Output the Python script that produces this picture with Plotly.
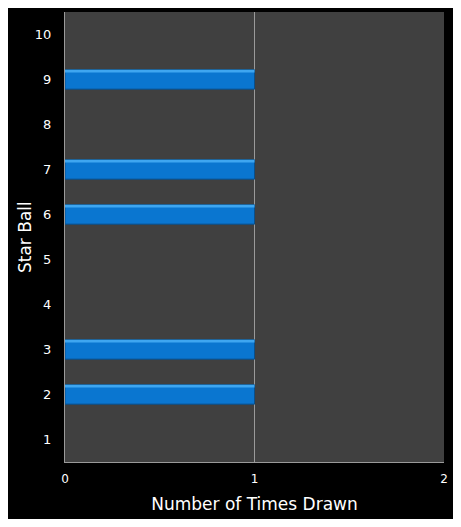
import plotly.graph_objects as go

# star ball numbers and how often each was drawn
star_balls = [1, 2, 3, 4, 5, 6, 7, 8, 9, 10]
times_drawn = [0, 1, 1, 0, 0, 1, 1, 0, 1, 0]
x_ticks = [0, 1, 2]

# page has an 8px body margin, so shrink the figure to keep the plot in place
fig = go.Figure()

fig.add_trace(go.Bar(
    x=times_drawn,
    y=star_balls,
    orientation="h",
    width=0.43,
    marker=dict(color="#0a76d0", line=dict(color="#0a4f8a", width=[1 if v else 0 for v in times_drawn])),
))

# light strip across the top of each bar (glossy look)
fig.add_trace(go.Bar(
    x=times_drawn,
    y=star_balls,
    orientation="h",
    width=0.06,
    offset=0.155,
    marker=dict(color="#3ea6f0", line=dict(width=0)),
))

fig.update_layout(
    width=445,
    height=511,
    paper_bgcolor="black",
    plot_bgcolor="#404040",
    margin=dict(l=57, r=9, t=4, b=57),
    showlegend=False,
    barmode="overlay",
    font=dict(family="DejaVu Sans", color="white", size=13),
)

fig.update_xaxes(
    range=[0, 2],
    tickvals=x_ticks,
    showgrid=True,
    gridcolor="#9a9a9a",
    gridwidth=1,
    zeroline=False,
    showline=True,
    linecolor="#9a9a9a",
    linewidth=1,
    ticks="",
    automargin=False,
    tickfont=dict(size=12, color="white"),
    ticklabelstandoff=6,
    title=dict(text="Number of Times Drawn", font=dict(size=17, color="white"), standoff=12),
)

fig.update_yaxes(
    range=[0.5, 10.5],
    tickvals=star_balls,
    showgrid=False,
    zeroline=False,
    showline=True,
    linecolor="#9a9a9a",
    linewidth=1,
    ticks="",
    automargin=False,
    ticklabelstandoff=10,
    tickfont=dict(size=13, color="white"),
)

# y title as an annotation so it sits where the original has it
fig.add_annotation(
    text="Star Ball",
    textangle=-90,
    xref="paper", yref="paper",
    x=0, y=0.5,
    xanchor="center", yanchor="middle",
    xshift=-40,
    showarrow=False,
    font=dict(size=17, color="white"),
)

fig.write_html("out.html")
